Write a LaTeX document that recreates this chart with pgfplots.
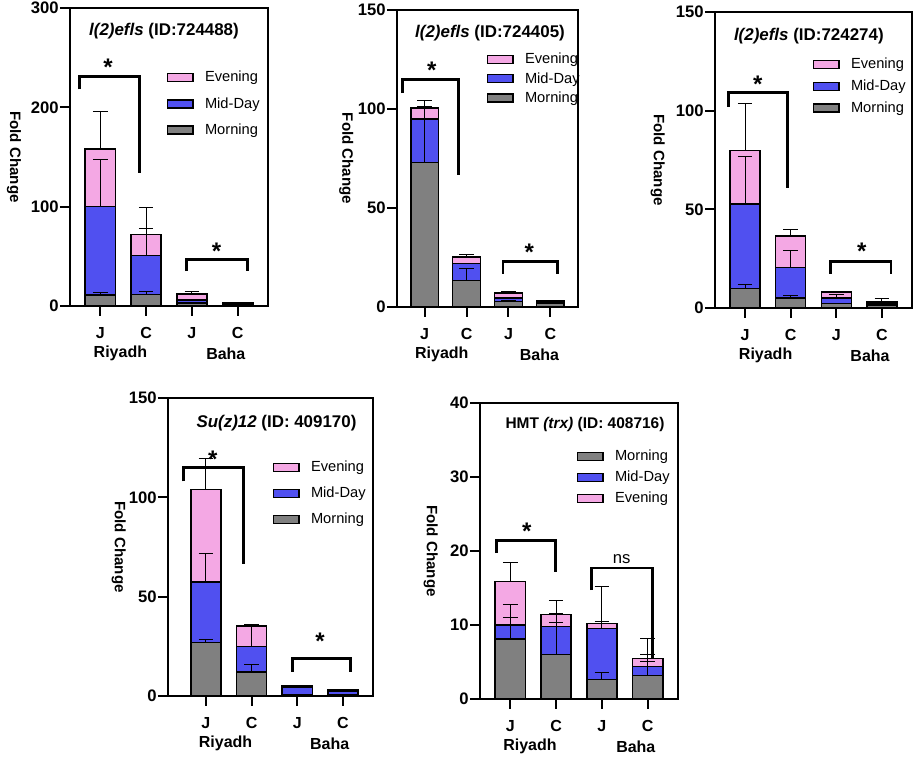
\documentclass[border=0pt]{standalone}
\usepackage{fontspec}
\setmainfont{Liberation Sans}
\usepackage{pgfplots}
\pgfplotsset{compat=1.18}
\definecolor{eve}{HTML}{F4A8E4}
\definecolor{mid}{HTML}{5050F0}
\definecolor{mor}{HTML}{808080}
\newcommand{\fs}[1]{\fontsize{#1}{#1}\selectfont}
\pgfplotsset{
  panel/.style={
    scale only axis, anchor=south west, clip=false,
    ymin=0, xmin=-0.66, xmax=3.66,
    xtick={0,1,2,3}, xticklabels={J,C,J,C},
    tick align=outside, major tick length=7.5pt,
    tick pos=left,
    axis line style={line width=1.5pt},
    every tick/.style={black, line width=1.5pt},
    /pgf/number format/assume math mode=true,
    yticklabel style={font=\bfseries\fs{12.5}, xshift=2.5pt},
    xticklabel style={font=\bfseries\fs{12}, yshift=-5pt},
    legend image code/.code={\draw[##1, line width=1pt] (0pt,-3pt) rectangle (19pt,3pt);},
    legend style={draw=none, fill=none, inner sep=0pt, outer sep=0pt, font=\fs{11}, cells={anchor=west}, at={(rel axis cs:0,1)}, anchor=north west},
    legend cell align=left,
    legend entries={\hspace{6.5pt}Evening,\hspace{6.5pt}Mid-Day,\hspace{6.5pt}Morning},
  },
  bars/.style={ybar, bar width=0.66, fill=#1, draw=black, line width=1.1pt,
    error bars/y dir=plus, error bars/y explicit,
    error bars/error bar style={black, line width=0.75pt},
    error bars/error mark options={rotate=90, black, mark size=5.5pt, line width=0.75pt}},
}
\tikzset{
  br/.style={line width=2.2pt, black},
  star/.style={font=\bfseries\fs{18}, inner sep=0pt, anchor=center, yshift=-3.8pt},
  grp/.style={font=\bfseries\fs{12}, yshift=-35.5pt},
  ttl/.style={font=\bfseries\fs{12.7}},
  flab/.style={font=\bfseries\fs{11.3}, rotate=-90},
}
\begin{document}
\begin{tikzpicture}
\useasboundingbox (0,0) rectangle (686.25pt,570pt);
% Panel 1
\begin{axis}[panel, at={(52.5pt,340.5pt)}, width=148.5pt, height=223.5pt,
  ymax=300, ytick={0,100,200,300},
  legend style={xshift=72.75pt, yshift=-45.5pt, row sep=6.2pt}]
\addplot[bars=eve] coordinates {(0,158) +- (0,38) (1,72) +- (0,27) (2,12) +- (0,3) (3,3.4) +- (0,0.5)};
\addplot[bars=mid] coordinates {(0,100) +- (0,47) (1,51) +- (0,27) (2,6) +- (0,1) (3,2.5) +- (0,0)};
\addplot[bars=mor] coordinates {(0,11) +- (0,2.5) (1,11.8) +- (0,2.7) (2,3) +- (0,0.5) (3,1.5) +- (0,0.3)};
\draw[br] (axis cs:-0.46,218) |- (axis cs:0.85,231) -- (axis cs:0.85,134);
\node[star] at (axis cs:0.17,245) {*};
\draw[br] (axis cs:1.89,35) |- (axis cs:3.22,47) -- (axis cs:3.22,35);
\node[star] at (axis cs:2.54,60) {*};
\node[ttl, xshift=-3.75pt, yshift=-17.5pt] at (rel axis cs:0.5,1) {\textit{l(2)efls} (ID:724488)};
\node[grp] at (axis cs:0.44,0) {Riyadh};
\node[grp] at (axis cs:2.74,0) {Baha};
\node[flab] at ([xshift=-42pt]rel axis cs:0,0.5) {Fold Change};
\end{axis}
% Panel 2
\begin{axis}[panel, at={(297.75pt,339.75pt)}, width=135.75pt, height=222.75pt,
  ymax=150, ytick={0,50,100,150},
  legend style={xshift=67.5pt, yshift=-30.5pt, row sep=0.9pt}]
\addplot[bars=eve] coordinates {(0,100.5) +- (0,4) (1,25.3) +- (0,1.2) (2,7) +- (0,0.6) (3,3) +- (0,0.3)};
\addplot[bars=mid] coordinates {(0,95) +- (0,0) (1,22) +- (0,0) (2,4.5) +- (0,0) (3,2.5) +- (0,0)};
\addplot[bars=mor] coordinates {(0,73) +- (0,28.5) (1,13.5) +- (0,5.9) (2,2.9) +- (0,0.5) (3,1.7) +- (0,0.3)};
\draw[br] (axis cs:-0.53,108) |- (axis cs:0.81,115) -- (axis cs:0.81,66.6);
\node[star] at (axis cs:0.17,122) {*};
\draw[br] (axis cs:1.87,16.9) |- (axis cs:3.18,22.8) -- (axis cs:3.18,16.9);
\node[star] at (axis cs:2.5,30.4) {*};
\node[ttl, xshift=1.9pt, yshift=-17.5pt] at (rel axis cs:0.5,1) {\textit{l(2)efls} (ID:724405)};
\node[grp] at (axis cs:0.41,0) {Riyadh};
\node[grp] at (axis cs:2.74,0) {Baha};
\node[flab] at ([xshift=-38pt]rel axis cs:0,0.5) {Fold Change};
\end{axis}
% Panel 3
\begin{axis}[panel, at={(536.25pt,339pt)}, width=147.75pt, height=222pt,
  ymax=150, ytick={0,50,100,150},
  legend style={xshift=73.5pt, yshift=-32.75pt, row sep=2.8pt}]
\addplot[bars=eve] coordinates {(0,79.8) +- (0,24) (1,36.6) +- (0,3) (2,8.1) +- (0,0.4) (3,3.4) +- (0,1.6)};
\addplot[bars=mid] coordinates {(0,52.8) +- (0,24.2) (1,20.6) +- (0,8.6) (2,5) +- (0,1.7) (3,2.5) +- (0,0)};
\addplot[bars=mor] coordinates {(0,10) +- (0,1.8) (1,5) +- (0,1.4) (2,2.2) +- (0,0.3) (3,1.5) +- (0,0.2)};
\draw[br] (axis cs:-0.37,102) |- (axis cs:0.94,109) -- (axis cs:0.94,60.7);
\node[star] at (axis cs:0.28,116) {*};
\draw[br] (axis cs:1.88,17.4) |- (axis cs:3.2,23.6) -- (axis cs:3.2,17.4);
\node[star] at (axis cs:2.56,31.2) {*};
\node[ttl, xshift=-3.5pt, yshift=-18pt] at (rel axis cs:0.5,1) {\textit{l(2)efls} (ID:724274)};
\node[grp] at (axis cs:0.45,0) {Riyadh};
\node[grp] at (axis cs:2.74,0) {Baha};
\node[flab] at ([xshift=-43pt]rel axis cs:0,0.5) {Fold Change};
\end{axis}
% Panel 4
\begin{axis}[panel, at={(126pt,48pt)}, width=153.75pt, height=223.5pt,
  xmin=-0.83, ymax=150, ytick={0,50,100,150},
  legend style={xshift=78.75pt, yshift=-45.5pt, row sep=6pt}]
\addplot[bars=eve] coordinates {(0,104) +- (0,15.7) (1,35.3) +- (0,0.8) (2,5) +- (0,0.3) (3,3) +- (0,0.2)};
\addplot[bars=mid] coordinates {(0,57.3) +- (0,14.3) (1,24.9) +- (0,11) (2,4.5) +- (0,0) (3,2.5) +- (0,0)};
\addplot[bars=mor] coordinates {(0,27) +- (0,1.6) (1,12) +- (0,4) (2,0.8) +- (0,0) (3,0.8) +- (0,0)};
\draw[br] (axis cs:-0.5,108) |- (axis cs:0.83,114.8) -- (axis cs:0.83,66.5);
\node[star] at (axis cs:0.15,121.5) {*};
\draw[br] (axis cs:1.9,12.3) |- (axis cs:3.17,19) -- (axis cs:3.17,12.3);
\node[star] at (axis cs:2.5,30) {*};
\node[ttl, xshift=4.5pt, yshift=-19pt] at (rel axis cs:0.5,1) {\textit{Su(z)12} (ID: 409170)};
\node[grp] at (axis cs:0.43,0) {Riyadh};
\node[grp] at (axis cs:2.71,0) {Baha};
\node[flab] at ([xshift=-37pt]rel axis cs:0,0.5) {Fold Change};
\end{axis}
% Panel 5
\begin{axis}[panel, at={(360pt,45.75pt)}, width=148.5pt, height=222pt,
  ymax=40, ytick={0,10,20,30,40}, reverse legend,
  legend style={xshift=72.75pt, yshift=-33.5pt, row sep=2.1pt}]
\addplot[bars=eve] coordinates {(0,15.9) +- (0,2.6) (1,11.4) +- (0,1.9) (2,10.2) +- (0,5) (3,5.5) +- (0,2.65)};
\addplot[bars=mid] coordinates {(0,10) +- (0,2.75) (1,9.8) +- (0,1.8) (2,9.5) +- (0,1) (3,4.4) +- (0,1.6)};
\addplot[bars=mor] coordinates {(0,8.1) +- (0,2.9) (1,6) +- (0,4.4) (2,2.6) +- (0,1) (3,3.15) +- (0,1.95)};
\draw[br] (axis cs:-0.3,19.7) |- (axis cs:0.99,21.4) -- (axis cs:0.99,17.1);
\node[star] at (axis cs:0.36,23.4) {*};
\draw[br] (axis cs:1.78,14.7) |- (axis cs:3.11,17.7) -- (axis cs:3.11,5.4);
\node[font=\fs{12.5}] at (axis cs:2.43,18.9) {ns};
\node[ttl, font=\bfseries\fs{11.6}, xshift=4.5pt, yshift=-16.5pt] at (rel axis cs:0.5,1) {HMT \textit{(trx)} (ID: 408716)};
\node[grp] at (axis cs:0.43,0) {Riyadh};
\node[grp] at (axis cs:2.74,0) {Baha};
\node[flab] at ([xshift=-37pt]rel axis cs:0,0.5) {Fold Change};
\end{axis}
\end{tikzpicture}
\end{document}
